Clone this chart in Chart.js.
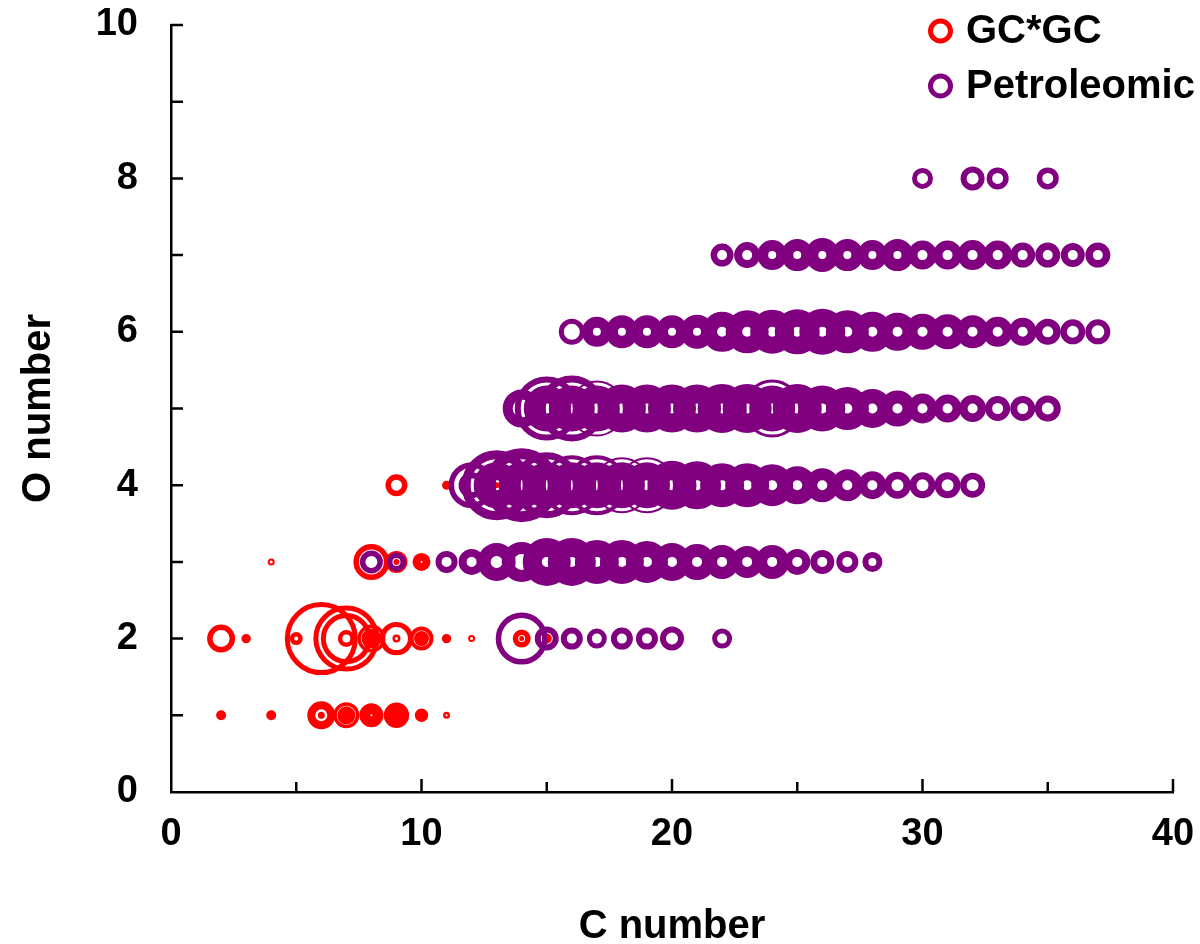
<!DOCTYPE html>
<html>
<head>
<meta charset="utf-8">
<title>GC*GC vs Petroleomic</title>
<script src="https://cdn.jsdelivr.net/npm/chart.js@4.4.1/dist/chart.umd.min.js"></script>
<style>
  html, body { margin: 0; padding: 0; background: #fff; }
  #wrap { position: relative; width: 1200px; height: 944px; }
</style>
</head>
<body>
<div id="wrap"><canvas id="chart" width="1200" height="944"></canvas></div>
<script>
const FONT = '"Liberation Sans", Arial, Helvetica, sans-serif';
const RED = '#ff0000';
const PURPLE = '#800080';

// tick labels
const xTicks = [0, 10, 20, 30, 40];
const yTicks = [0, 2, 4, 6, 8, 10];
const xTickMarks = [5, 10, 15, 20, 25, 30, 35, 40];
const yTickMarks = [1, 2, 3, 4, 5, 6, 7, 8, 9, 10];

// each row: C numbers, bubble outer radius (px) and hole radius (px, 0 = solid)
// a C number listed twice has two concentric bubbles
// GC*GC
const gcC1 = [2, 4, 6, 6, 7, 7, 8, 9, 10, 11];
const gcS1 = [5, 5, 14, 3.5, 13, 9, 12, 12.7, 6.7, 3.5];
const gcH1 = [0, 0, 6, 0, 9.5, 0, 1, 0, 0, 1];
const gcC2 = [2, 3, 5, 6, 7, 7, 7, 8, 8, 9, 9, 10, 10, 11, 12, 14, 14, 15];
const gcS2 = [14, 4.7, 6.5, 36.5, 33, 25.5, 8.5, 14, 10, 16.7, 4, 12, 7.5, 4.7, 3.5, 9, 2.5, 5];
const gcH2 = [8.5, 0, 2, 31.5, 28, 20.5, 4, 10.5, 0, 11.5, 1.5, 8, 0, 0, 1.5, 3.5, 0, 0];
const gcC3 = [4, 8, 9, 9, 10];
const gcS3 = [3.5, 18, 11, 3, 9];
const gcH3 = [1.5, 12.5, 5.5, 0, 1];
const gcC4 = [9, 11, 13];
const gcS4 = [11, 4.5, 3];
const gcH4 = [5.5, 0, 0];

// Petroleomic
const peC2 = [14, 15, 16, 17, 18, 19, 20, 22];
const peS2 = [26, 12, 11, 10, 11, 11, 12, 10];
const peH2 = [20.5, 6, 5, 5, 5, 5, 6, 5];
const peC3 = [8, 9, 11, 12, 13, 14, 15, 16, 17, 18, 19, 20, 21, 22, 23, 24, 25, 26, 27, 28];
const peS3 = [11.5, 9.5, 11, 13, 19, 20, 24, 24, 22, 22, 21, 19, 18, 17, 16, 17, 13, 12, 11, 10];
const peH3 = [6, 4, 5, 5, 6, 8, 5, 5, 5, 5, 5, 5, 5, 5, 5, 5, 5, 5, 5, 4];
const peC4 = [12, 12, 13, 13, 14, 14, 15, 15, 16, 16, 17, 17, 18, 18, 19, 19,
              20, 21, 22, 23, 24, 25, 26, 27, 28, 29, 30, 31, 32];
const peS4 = [23, 13, 35, 23, 37, 23, 33, 23, 30, 23, 30, 23, 28, 23, 28, 23,
              24.5, 24, 22, 22, 21, 19, 17, 16, 14, 13.5, 13, 13, 12.5];
const peH4 = [17.5, 7, 26, 5, 26, 5, 26, 5, 26, 5, 26, 5, 26, 5, 26, 5,
              5, 5, 5, 5, 5, 5, 5, 5, 5, 6, 6, 6, 6];
const peC5 = [14, 15, 15, 16, 16, 17, 17, 18, 19, 20, 21, 22, 23, 24, 24,
              25, 26, 27, 28, 29, 30, 31, 32, 33, 34, 35];
const peS5 = [19, 32, 23, 33, 23, 28, 23, 24, 24, 24, 24, 24.5, 24.5, 29, 23,
              24.5, 23, 21.5, 19.5, 18, 15, 14, 13.5, 12.5, 12.5, 13];
const peH5 = [9, 26, 5, 26, 5, 26, 5, 5, 5, 5, 5, 5, 5, 26, 5,
              5, 5, 5, 5, 5, 5, 5, 5, 5.5, 5.5, 6];
const peC6 = [16, 17, 18, 19, 20, 21, 22, 23, 24, 25, 26, 27, 28, 29, 30, 31, 32, 33, 34, 35, 36, 37];
const peS6 = [13, 15, 16.5, 16.5, 16.5, 17, 20, 21.5, 22, 22.5, 23, 21.5, 20, 19, 18, 17.5, 16.5, 15, 14, 13, 12.5, 12.5];
const peH6 = [8, 4, 4, 4, 4, 4, 5, 5, 5, 5, 5, 5, 5, 5, 5, 5, 5, 5, 5, 5.5, 6, 6.5];
const peC7 = [22, 23, 24, 25, 26, 27, 28, 29, 30, 31, 32, 33, 34, 35, 36, 37];
const peS7 = [11.5, 13, 15, 16, 17, 16, 15, 16, 14.5, 14.5, 15, 14.5, 12.5, 12.5, 12, 12.5];
const peH7 = [5, 5, 4, 4, 4, 4, 4, 4, 5, 5, 5, 5, 5, 5, 5, 5];
const peC8 = [30, 32, 33, 35];
const peS8 = [10.5, 12, 11, 11];
const peH8 = [5.5, 6, 5.5, 5.5];

// a ring from hole to outer edge: radius in the middle, stroke as wide as the band
function toPoints(rows) {
  return rows.flatMap(([o, cs, ss, hs]) => cs.map((c, i) => ({
    x: c, y: o, r: (ss[i] + hs[i]) / 2, w: ss[i] - hs[i]
  })));
}

const gcData = toPoints([[1, gcC1, gcS1, gcH1], [2, gcC2, gcS2, gcH2],
                         [3, gcC3, gcS3, gcH3], [4, gcC4, gcS4, gcH4]]);
const peData = toPoints([[2, peC2, peS2, peH2], [3, peC3, peS3, peH3], [4, peC4, peS4, peH4],
                         [5, peC5, peS5, peH5], [6, peC6, peS6, peH6], [7, peC7, peS7, peH7],
                         [8, peC8, peS8, peH8]]);

const legendItems = [
  { label: 'GC*GC', color: RED },
  { label: 'Petroleomic', color: PURPLE }
];

// tick marks point into the plot, legend sits in the top right corner
const extras = {
  id: 'extras',
  afterDraw(chart) {
    const { ctx, scales: { x, y } } = chart;
    ctx.save();
    ctx.strokeStyle = '#000';
    ctx.lineWidth = 2.5;
    ctx.beginPath();
    xTickMarks.forEach(v => {
      const px = x.getPixelForValue(v);
      const len = v % 10 === 0 ? 13 : 10;
      ctx.moveTo(px, y.bottom);
      ctx.lineTo(px, y.bottom - len);
    });
    yTickMarks.forEach(v => {
      const py = y.getPixelForValue(v);
      ctx.moveTo(x.left, py);
      ctx.lineTo(x.left + 12, py);
    });
    ctx.stroke();

    ctx.font = 'bold 40px ' + FONT;
    ctx.textBaseline = 'middle';
    ctx.textAlign = 'left';
    legendItems.forEach((it, i) => {
      const cy = 31 + i * 55;
      ctx.beginPath();
      ctx.lineWidth = 5;
      ctx.strokeStyle = it.color;
      ctx.arc(940.5, cy, 10, 0, Math.PI * 2);
      ctx.stroke();
      ctx.fillStyle = '#000';
      ctx.fillText(it.label, 966, cy + 1);
    });
    ctx.restore();
  }
};

const tickFont = { family: FONT, size: 38, weight: 'bold' };
const titleFont = { family: FONT, size: 40, weight: 'bold', lineHeight: 1.1 };

new Chart(document.getElementById('chart'), {
  type: 'bubble',
  data: {
    datasets: [
      {
        label: 'GC*GC',
        data: gcData,
        order: 1,
        borderColor: RED,
        backgroundColor: 'rgba(0,0,0,0)',
        borderWidth: c => (c.raw ? c.raw.w : 5)
      },
      {
        label: 'Petroleomic',
        data: peData,
        order: 0,
        borderColor: PURPLE,
        backgroundColor: 'rgba(0,0,0,0)',
        borderWidth: c => (c.raw ? c.raw.w : 5)
      }
    ]
  },
  options: {
    responsive: false,
    animation: false,
    events: [],
    layout: { autoPadding: false, padding: { top: 25, right: 27, left: 0, bottom: 0 } },
    plugins: {
      legend: { display: false },
      tooltip: { enabled: false }
    },
    scales: {
      x: {
        type: 'linear',
        min: 0,
        max: 40,
        afterBuildTicks: s => { s.ticks = xTicks.map(v => ({ value: v })); },
        afterFit: s => { s.height = 152; s.paddingLeft = 0; s.paddingRight = 0; },
        grid: { display: false },
        border: { display: true, color: '#000', width: 2.5 },
        ticks: { color: '#000', font: tickFont, padding: 12, maxRotation: 0 },
        title: { display: true, text: 'C number', color: '#000', font: { ...titleFont, lineHeight: 0.85 }, padding: { top: 0, bottom: 0 } }
      },
      y: {
        type: 'linear',
        min: 0,
        max: 10,
        afterBuildTicks: s => { s.ticks = yTicks.map(v => ({ value: v })); },
        afterFit: s => { s.width = 171; s.paddingTop = 0; s.paddingBottom = 0; },
        grid: { display: false },
        border: { display: true, color: '#000', width: 2.5 },
        ticks: { color: '#000', font: tickFont, padding: 25 },
        title: { display: true, text: 'O number', color: '#000', font: titleFont, padding: { top: 17, bottom: 0 } }
      }
    }
  },
  plugins: [extras]
});
</script>
</body>
</html>
